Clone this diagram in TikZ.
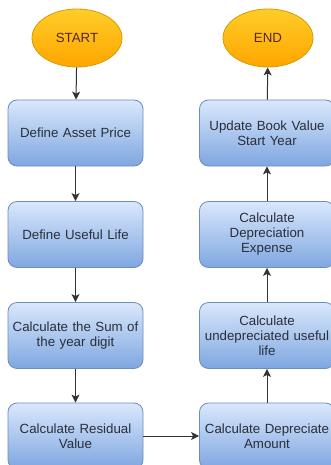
\documentclass[tikz,border=0pt]{standalone}
\usepackage{fontspec}
\setmainfont{Liberation Sans}
\usetikzlibrary{arrows.meta,shapes.geometric}
\definecolor{boxtop}{HTML}{DAE8FC}
\definecolor{boxbot}{HTML}{7EA6E0}
\definecolor{boxline}{HTML}{6C8EBF}
\definecolor{termtop}{HTML}{FFCD28}
\definecolor{termbot}{HTML}{FFA500}
\definecolor{termline}{HTML}{D79B00}
\definecolor{ink}{HTML}{2A2F3A}
\definecolor{wire}{HTML}{333333}
\tikzset{
  stepbox/.style={rectangle, rounded corners=9pt, draw=boxline, line width=0.8pt,
    top color=boxtop, bottom color=boxbot, minimum width=135pt, minimum height=66pt,
    text width=132pt, align=center, text=ink, inner sep=1pt,
    font=\fontsize{13.3}{15}\selectfont},
  terminal/.style={ellipse, draw=termline, line width=0.8pt,
    top color=termtop, bottom color=termbot, minimum width=90pt, minimum height=58pt,
    inner sep=0pt, text=ink!80!red, font=\fontsize{13.3}{15}\selectfont},
  flow/.style={draw=wire, line width=1pt, -{Stealth[length=8pt,width=8pt,inset=2pt]}}
}
\begin{document}
\begin{tikzpicture}[x=1pt,y=-1pt]
  \useasboundingbox[fill=white] (0,0) rectangle (330,465);
  % left column
  \node[terminal] (start) at (77,38) {START};
  \node[stepbox] (price) at (75.5,133) {Define Asset Price};
  \node[stepbox] (life) at (75.5,234.5) {Define Useful Life};
  \node[stepbox] (sum) at (75.5,335.5) {Calculate the Sum of\\the year digit};
  \node[stepbox] (resid) at (75.5,436) {Calculate Residual\\Value};
  % right column
  \node[stepbox] (amount) at (267,436) {Calculate Depreciate\\Amount};
  \node[stepbox] (undep) at (267,335.5) {Calculate\\undepreciated useful\\life};
  \node[stepbox] (expense) at (267,234.5) {Calculate\\Depreciation\\Expense};
  \node[stepbox] (book) at (267,133) {Update Book Value\\Start Year};
  \node[terminal] (end) at (268,38) {END};
  % connectors
  \draw[flow] (start) -- (price);
  \draw[flow] (price) -- (life);
  \draw[flow] (life) -- (sum);
  \draw[flow] (sum) -- (resid);
  \draw[flow] (resid) -- (amount);
  \draw[flow] (amount) -- (undep);
  \draw[flow] (undep) -- (expense);
  \draw[flow] (expense) -- (book);
  \draw[flow] (book) -- (end);
\end{tikzpicture}
\end{document}
